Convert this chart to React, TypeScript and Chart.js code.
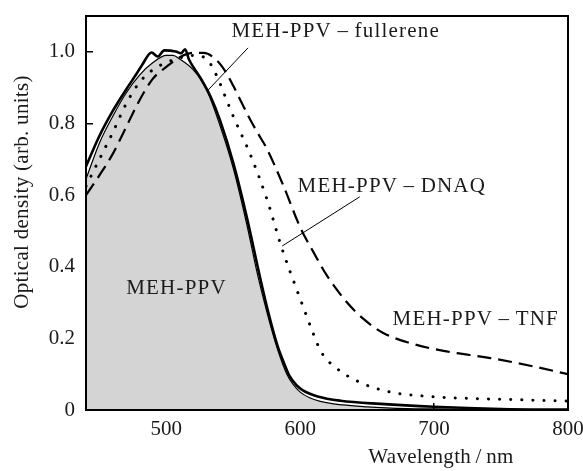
import React, { useEffect, useRef } from "react";
import { Chart, registerables } from "chart.js";

Chart.register(...registerables);

// ---- Data (wavelength in nm, optical density in arb. units) ----
const pristineX = [440, 450, 460, 470, 480, 490, 500, 505, 510, 520, 530, 540, 550, 560, 568, 575, 583, 590, 595, 600, 607, 615, 625, 650, 680, 700, 750, 800];
const pristineY = [0.645, 0.745, 0.82, 0.885, 0.935, 0.97, 0.99, 0.99, 0.98, 0.95, 0.895, 0.795, 0.675, 0.52, 0.38, 0.275, 0.17, 0.1, 0.07, 0.05, 0.034, 0.024, 0.017, 0.009, 0.004, 0.003, 0.001, 0.0];

const fullereneX = [440, 450, 460, 470, 478, 482, 489, 493.5, 498.5, 507, 511, 514, 517, 525, 533, 540, 550, 560, 570, 577, 583, 588, 592, 597, 602, 613, 630, 660, 700, 750, 800];
const fullereneY = [0.68, 0.765, 0.835, 0.895, 0.94, 0.964, 0.998, 0.987, 1.004, 1.001, 0.996, 1.007, 0.978, 0.93, 0.875, 0.81, 0.69, 0.54, 0.37, 0.26, 0.18, 0.13, 0.095, 0.07, 0.055, 0.038, 0.026, 0.017, 0.009, 0.003, 0.001];

const dnaqX = [440, 450, 460, 470, 480, 490, 500, 510, 520, 530, 538, 544, 550, 556, 562, 575, 586, 597, 604, 609, 616, 627, 643, 665, 700, 750, 800];
const dnaqY = [0.625, 0.7, 0.775, 0.855, 0.915, 0.95, 0.97, 0.983, 0.99, 0.98, 0.93, 0.875, 0.82, 0.77, 0.72, 0.59, 0.455, 0.34, 0.27, 0.22, 0.16, 0.117, 0.08, 0.052, 0.037, 0.03, 0.025];

const tnfX = [440, 450, 460, 470, 480, 490, 500, 510, 520, 528, 538, 545, 550, 556, 562, 568, 575, 587, 600, 610, 620, 635, 647, 662, 682, 707, 742, 770, 800];
const tnfY = [0.6, 0.655, 0.715, 0.79, 0.865, 0.925, 0.958, 0.985, 0.997, 0.997, 0.975, 0.94, 0.905, 0.86, 0.815, 0.775, 0.73, 0.63, 0.51, 0.44, 0.375, 0.3, 0.255, 0.215, 0.187, 0.165, 0.145, 0.125, 0.1];

const xTicks = [500, 600, 700, 800];
const yTicks = [0, 0.2, 0.4, 0.6, 0.8, 1.0];
const yTickLabels = ["0", "0.2", "0.4", "0.6", "0.8", "1.0"];

const xTitle = "Wavelength\u2009/\u2009nm";
const yTitle = "Optical density (arb. units)";

const curveLabels = ["MEH-PPV", "MEH-PPV\u2009\u2013\u2009fullerene", "MEH-PPV\u2009\u2013\u2009DNAQ", "MEH-PPV\u2009\u2013\u2009TNF"];
// label anchor (left, baseline) in data units
const labelAnchorX = [470, 548.6, 598, 669];
const labelAnchorY = [0.324, 1.042, 0.609, 0.237];
// leader lines [x1, y1, x2, y2] in data units
const leaderFullerene = [561, 1.011, 530.6, 0.891];
const leaderDnaq = [644.4, 0.595, 586.6, 0.458];

const FONT = "'Liberation Serif', 'Times New Roman', serif";

const zip = (xs: number[], ys: number[]) => xs.map((x, i) => ({ x, y: ys[i] }));

const decorPlugin = {
  id: "decor",
  afterDraw(chart: any) {
    const { ctx, chartArea: a, scales } = chart;
    const xs = scales.x;
    const ys = scales.y;
    ctx.save();
    // frame
    ctx.strokeStyle = "#000";
    ctx.lineWidth = 2;
    ctx.strokeRect(a.left, a.top, a.right - a.left, a.bottom - a.top);

    // leader lines
    ctx.lineWidth = 1;
    for (const l of [leaderFullerene, leaderDnaq]) {
      ctx.beginPath();
      ctx.moveTo(xs.getPixelForValue(l[0]), ys.getPixelForValue(l[1]));
      ctx.lineTo(xs.getPixelForValue(l[2]), ys.getPixelForValue(l[3]));
      ctx.stroke();
    }

    // curve labels
    ctx.fillStyle = "#1a1a1a";
    ctx.font = `21px ${FONT}`;
    ctx.textAlign = "left";
    ctx.textBaseline = "alphabetic";
    (ctx as any).letterSpacing = "1.2px";
    curveLabels.forEach((t, i) => {
      ctx.fillText(t, xs.getPixelForValue(labelAnchorX[i]), ys.getPixelForValue(labelAnchorY[i]));
    });
    (ctx as any).letterSpacing = "0.3px";

    // axis titles
    ctx.textAlign = "center";
    ctx.textBaseline = "alphabetic";
    ctx.fillText(xTitle, 441, 463);
    ctx.translate(22, 192);
    ctx.rotate(-Math.PI / 2);
    ctx.textBaseline = "middle";
    ctx.fillText(yTitle, 0, 0);
    ctx.restore();
  },
};

export default function App() {
  const ref = useRef<HTMLCanvasElement | null>(null);
  useEffect(() => {
    if (!ref.current) return;
    const chart = new Chart(ref.current, {
      type: "line",
      data: {
        datasets: [
          {
            label: "MEH-PPV",
            data: zip(pristineX, pristineY),
            borderColor: "#000",
            borderWidth: 1.2,
            backgroundColor: "#d4d4d4",
            fill: "origin",
            pointRadius: 0,
            cubicInterpolationMode: "monotone",
          },
          {
            label: "MEH-PPV – fullerene",
            data: zip(fullereneX, fullereneY),
            borderColor: "#000",
            borderWidth: 2.6,
            fill: false,
            pointRadius: 0,
            cubicInterpolationMode: "monotone",
          },
          {
            label: "MEH-PPV – DNAQ",
            data: zip(dnaqX, dnaqY),
            borderColor: "#000",
            borderWidth: 3,
            borderDash: [0.1, 11],
            borderCapStyle: "round",
            fill: false,
            pointRadius: 0,
            cubicInterpolationMode: "monotone",
          },
          {
            label: "MEH-PPV – TNF",
            data: zip(tnfX, tnfY),
            borderColor: "#000",
            borderWidth: 2.2,
            borderDash: [14, 7],
            fill: false,
            pointRadius: 0,
            cubicInterpolationMode: "monotone",
          },
        ],
      },
      options: {
        responsive: false,
        animation: false,
        devicePixelRatio: 1,
        layout: { padding: { top: 16, right: 15, left: 0, bottom: 0 } },
        plugins: {
          legend: { display: false },
          tooltip: { enabled: false },
          filler: { drawTime: "beforeDatasetsDraw" },
        } as any,
        scales: {
          x: {
            type: "linear",
            min: 440,
            max: 800,
            border: { display: false },
            grid: { drawOnChartArea: false, tickLength: -7, color: "#000", lineWidth: 1.5 },
            ticks: {
              color: "#1a1a1a",
              font: { family: FONT, size: 21 },
              padding: 14,
              maxRotation: 0,
              callback: (v: any) => String(v),
            },
            afterBuildTicks: (s: any) => {
              s.ticks = xTicks.map((v) => ({ value: v }));
            },
            afterFit: (s: any) => {
              s.height = 61;
              s.paddingLeft = 0;
              s.paddingRight = 0;
            },
          },
          y: {
            type: "linear",
            min: 0,
            max: 1.1,
            border: { display: false },
            grid: { drawOnChartArea: false, tickLength: -7, color: "#000", lineWidth: 1.5 },
            ticks: {
              color: "#1a1a1a",
              font: { family: FONT, size: 21 },
              padding: 18,
              callback: (v: any) => {
                const i = yTicks.findIndex((t) => Math.abs(t - v) < 1e-6);
                return i >= 0 ? yTickLabels[i] : "";
              },
            },
            afterBuildTicks: (s: any) => {
              s.ticks = yTicks.map((v) => ({ value: v }));
            },
            afterFit: (s: any) => {
              s.width = 86;
              s.paddingTop = 0;
              s.paddingBottom = 0;
            },
          },
        },
      },
      plugins: [decorPlugin],
    });
    return () => chart.destroy();
  }, []);
  return (
    <div style={{ position: "fixed", left: 0, top: 0, width: 583, height: 471, background: "#fff" }}>
      <canvas ref={ref} width={583} height={471} />
    </div>
  );
}
